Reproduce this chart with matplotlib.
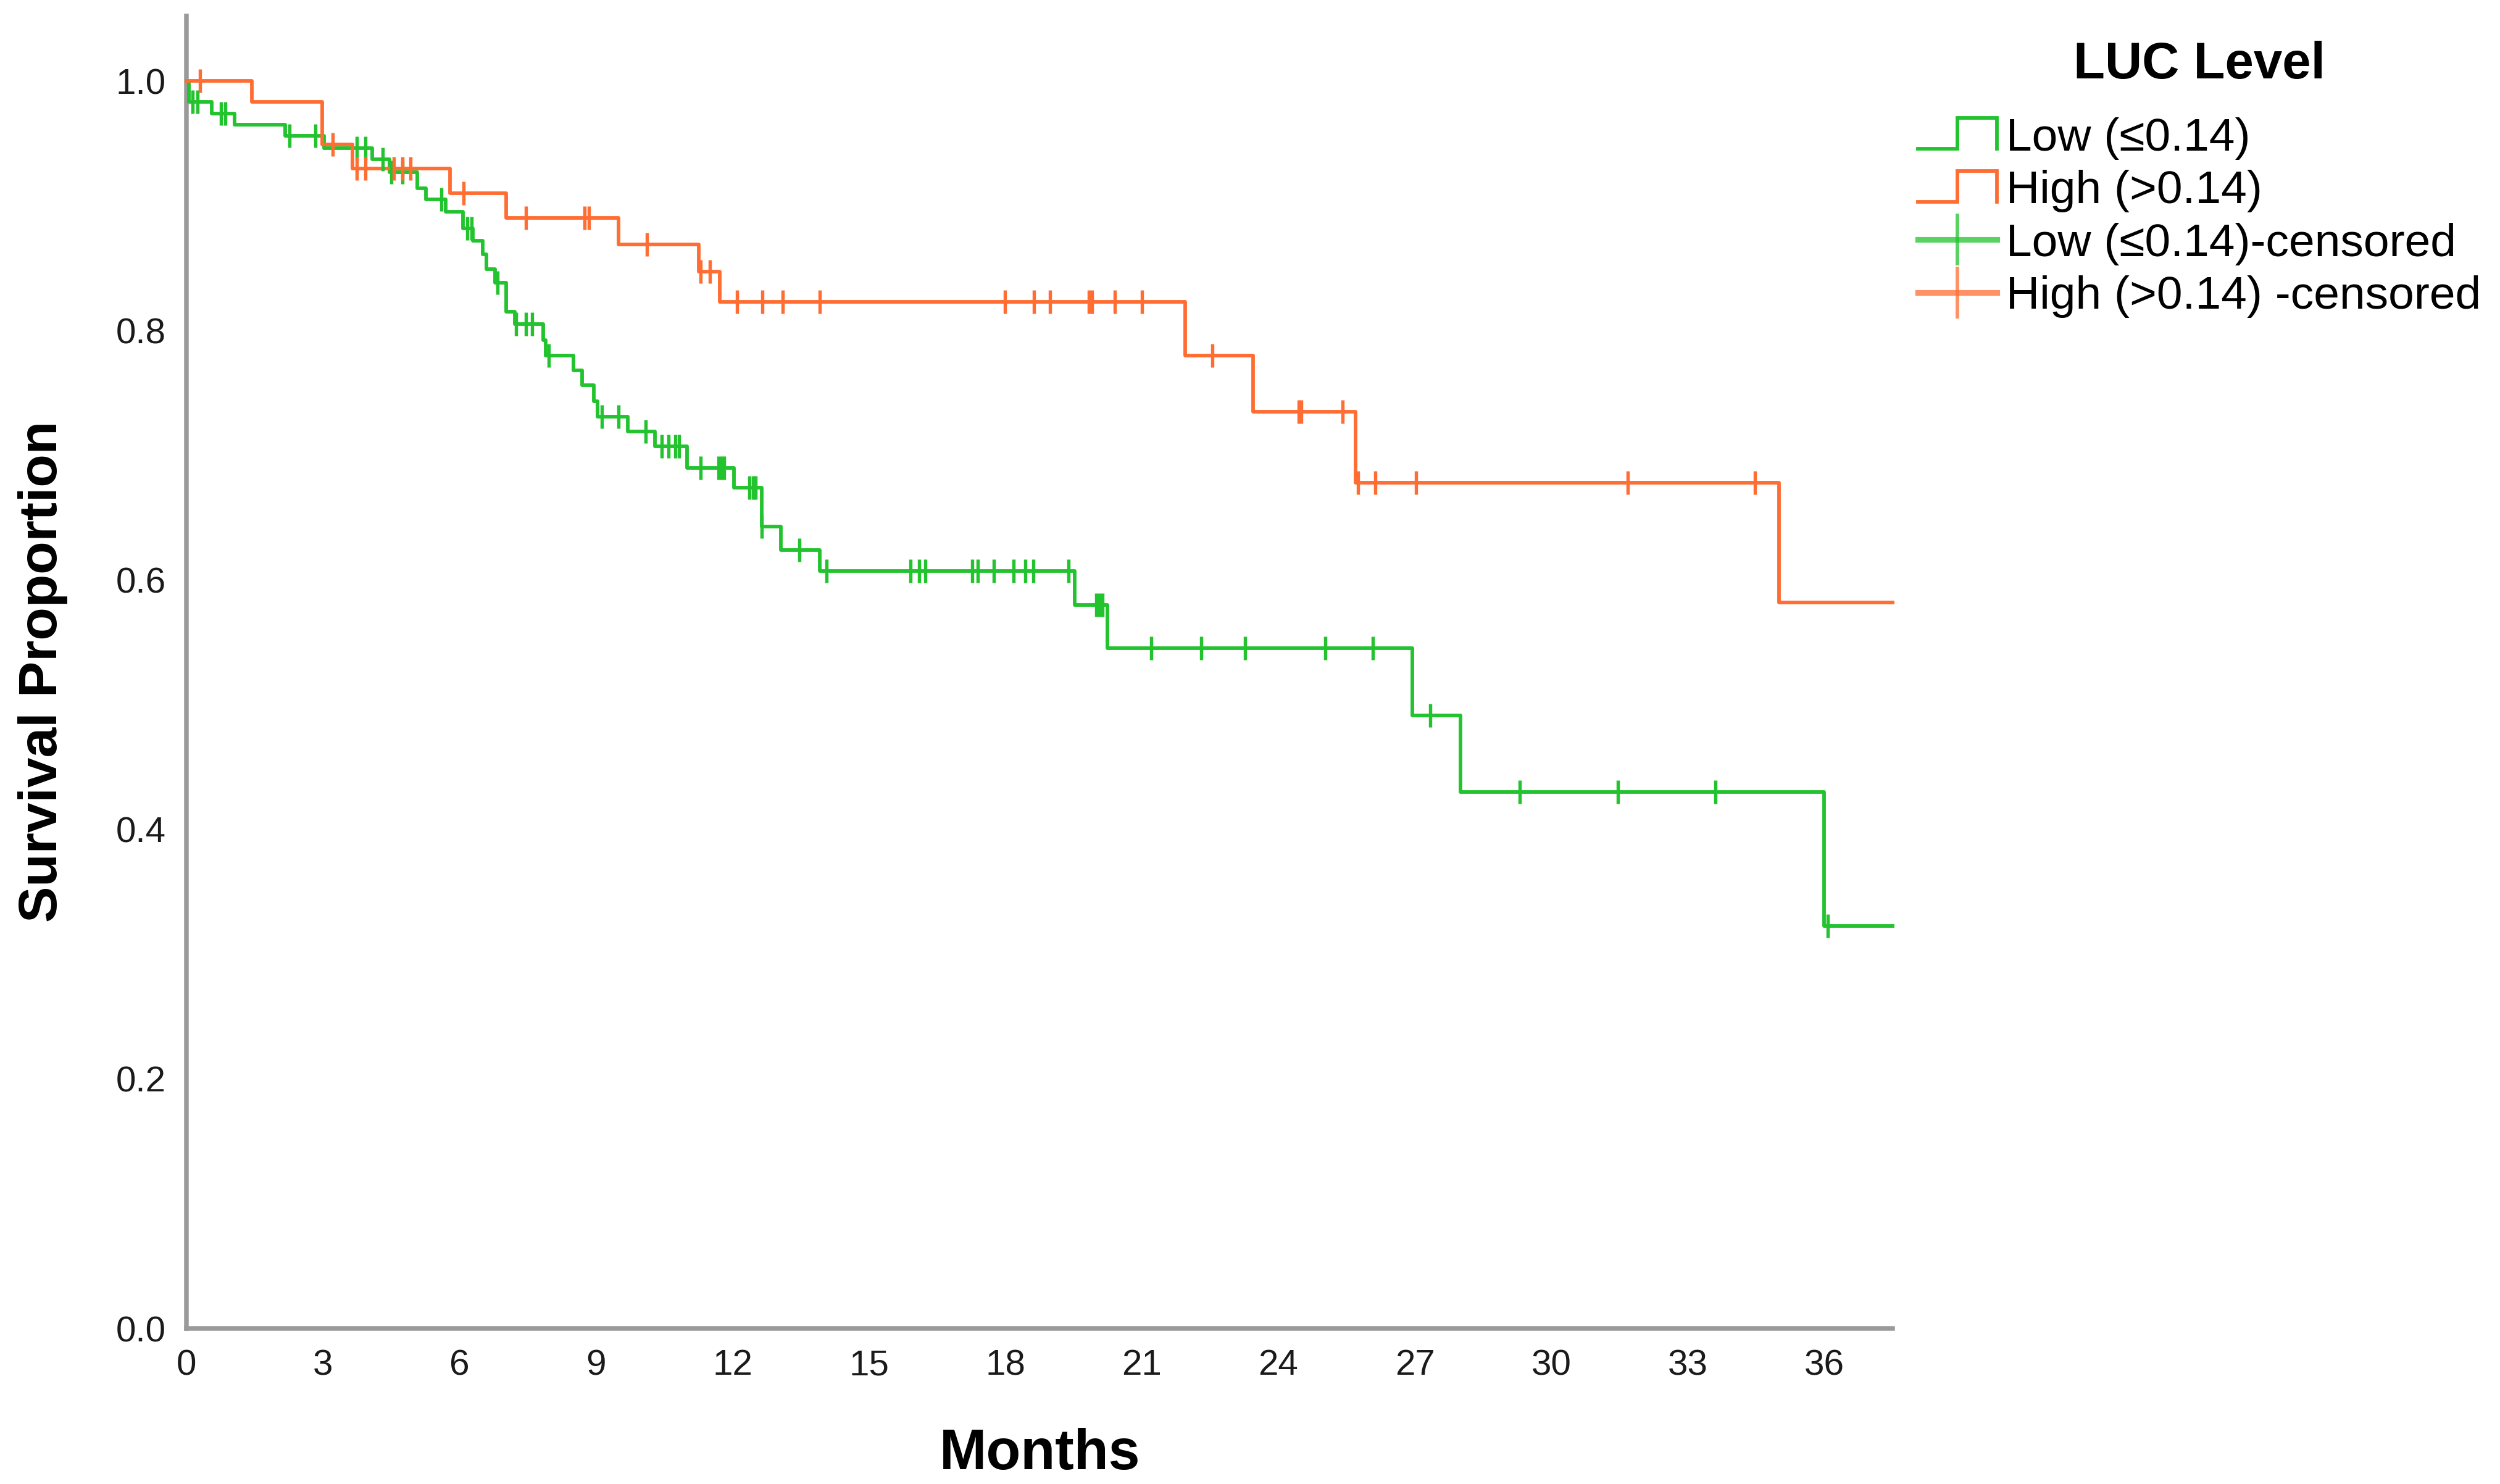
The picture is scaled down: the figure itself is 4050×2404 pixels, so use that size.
import numpy as np
import matplotlib
matplotlib.use("Agg")
import matplotlib.pyplot as plt
from matplotlib.lines import Line2D
from matplotlib.legend_handler import HandlerBase

plt.rcParams['font.family'] = ['Liberation Sans', 'DejaVu Sans']

# Kaplan-Meier steps: time (months) where survival drops, and the new level
low_t = [0, 0.06, 0.56, 1.06, 2.17, 3.03, 4.08, 4.46, 5.07, 5.27, 5.7, 6.08, 6.3, 6.51, 6.6,
         6.79, 7.03, 7.22, 7.84, 7.9, 8.5, 8.7, 8.95, 9.03, 9.7, 10.3, 11.0, 12.04, 12.65,
         13.06, 13.92, 19.53, 20.24, 26.94, 28.0, 36.0]
low_s = [1.0, 0.983, 0.974, 0.965, 0.956, 0.946, 0.937, 0.927, 0.914, 0.905, 0.895, 0.882, 0.872,
         0.861, 0.849, 0.838, 0.815, 0.805, 0.792, 0.780, 0.768, 0.756, 0.743, 0.731, 0.719,
         0.707, 0.690, 0.674, 0.643, 0.624, 0.607, 0.580, 0.5455, 0.4916, 0.430, 0.3228]
low_cens = [0.13, 0.24, 0.76, 0.86, 2.27, 2.84, 3.75, 3.93, 4.31, 4.51, 4.75, 5.6, 6.17, 6.27,
            6.84, 7.25, 7.46, 7.6, 7.97, 9.13, 9.5, 10.1, 10.45, 10.6, 10.75, 10.83, 11.3,
            11.69, 11.76, 11.82, 12.37, 12.45, 12.51, 12.65, 13.47, 14.07, 15.92, 16.1, 16.24,
            17.27, 17.4, 17.75, 18.18, 18.44, 18.62, 19.39, 20.0, 20.07, 20.13, 21.2, 22.3,
            23.27, 25.03, 26.07, 27.34, 29.3, 31.46, 33.6, 36.08]

high_t = [0, 1.44, 2.99, 3.65, 5.79, 7.03, 9.5, 11.26, 11.72, 21.95, 23.45, 25.7, 35.0]
high_s = [1.0, 0.983, 0.949, 0.930, 0.910, 0.890, 0.869, 0.847, 0.823, 0.780, 0.735, 0.678, 0.582]
high_cens = [0.3, 3.22, 3.75, 3.93, 4.56, 4.75, 4.92, 6.09, 7.46, 8.75, 8.85, 10.12, 11.3, 11.5,
             12.1, 12.66, 13.1, 13.92, 17.99, 18.63, 18.98, 19.83, 19.9, 20.4, 21.0, 22.55,
             24.45, 24.5, 25.41, 25.75, 26.13, 27.02, 31.68, 34.47]

t_end = 37.5
green = '#22c32e'
orange = '#ff6d33'
labels = ['Low (≤0.14)', 'High (>0.14)', 'Low (≤0.14)-censored', 'High (>0.14) -censored']


def surv_at(t, times, surv):
    idx = np.searchsorted(times, t, side='right') - 1
    return np.asarray(surv)[idx]


class StepHandler(HandlerBase):
    def create_artists(self, legend, orig_handle, xdescent, ydescent, width, height, fontsize, trans):
        x0 = -xdescent
        y0 = -ydescent
        xs = [x0, x0 + width * 0.5, x0 + width * 0.5, x0 + width, x0 + width]
        ys = [y0 + height * 0.05, y0 + height * 0.05, y0 + height * 1.0, y0 + height * 1.0, y0 + height * 0.05]
        ln = Line2D(xs, ys, color=orig_handle.get_color(), lw=orig_handle.get_linewidth(),
                    solid_joinstyle='miter', transform=trans)
        return [ln]


fig = plt.figure(figsize=(13.5, 2404 / 300), dpi=300)
ax = fig.add_axes([302 / 4050, 1 - 2152 / 2404, (3066 - 302) / 4050, (2152 - 26) / 2404])

curves = [(low_t, low_s, low_cens, green), (high_t, high_s, high_cens, orange)]
step_handles = []
cens_handles = []
for times, surv, cens, col in curves:
    tt = list(times) + [t_end]
    ss = list(surv) + [surv[-1]]
    h, = ax.step(tt, ss, where='post', color=col, lw=1.4, clip_on=False, zorder=3)
    ax.plot(cens, surv_at(cens, times, surv), ls='none', marker='|', ms=9, mew=1.3,
            color=col, zorder=4, clip_on=False)
    step_handles.append(h)
    cens_handles.append(Line2D([], [], color=col, lw=2.2, alpha=0.75, marker='|', ms=20, mew=1.4))

ax.set_xlim(0, t_end)
ax.set_ylim(0, 1.052)
ax.set_xticks(np.arange(0, 37, 3))
ax.set_yticks(np.arange(0, 1.01, 0.2))
ax.set_yticklabels(['%.1f' % v for v in np.arange(0, 1.01, 0.2)])
ax.tick_params(length=0, labelsize=14, pad=8, colors='#1a1a1a')

for side in ['top', 'right']:
    ax.spines[side].set_visible(False)
for side in ['left', 'bottom']:
    ax.spines[side].set_color('#9a9a9a')
    ax.spines[side].set_linewidth(1.8)

ax.set_xlabel('Months', fontsize=22, fontweight='bold')
ax.set_ylabel('Survival Proportion', fontsize=21, fontweight='bold')
ax.xaxis.set_label_coords(0.5004, -0.096)
ax.xaxis.label.set_va('center')
ax.yaxis.set_label_coords(-0.084, 0.5005)
ax.yaxis.label.set_va('center')

leg = ax.legend(step_handles + cens_handles, labels,
                handler_map={h: StepHandler() for h in step_handles},
                loc='upper left', bbox_to_anchor=(3107 / 4050, 0.9726),
                bbox_transform=fig.transFigure, frameon=False, fontsize=18,
                title='LUC Level', title_fontproperties={'size': 20, 'weight': 'bold'},
                handlelength=1.7, handletextpad=0.2, labelspacing=0.22, borderpad=0,
                borderaxespad=0)
leg._legend_box.sep = 11

fig.savefig('out.png', dpi=300, facecolor='white')
